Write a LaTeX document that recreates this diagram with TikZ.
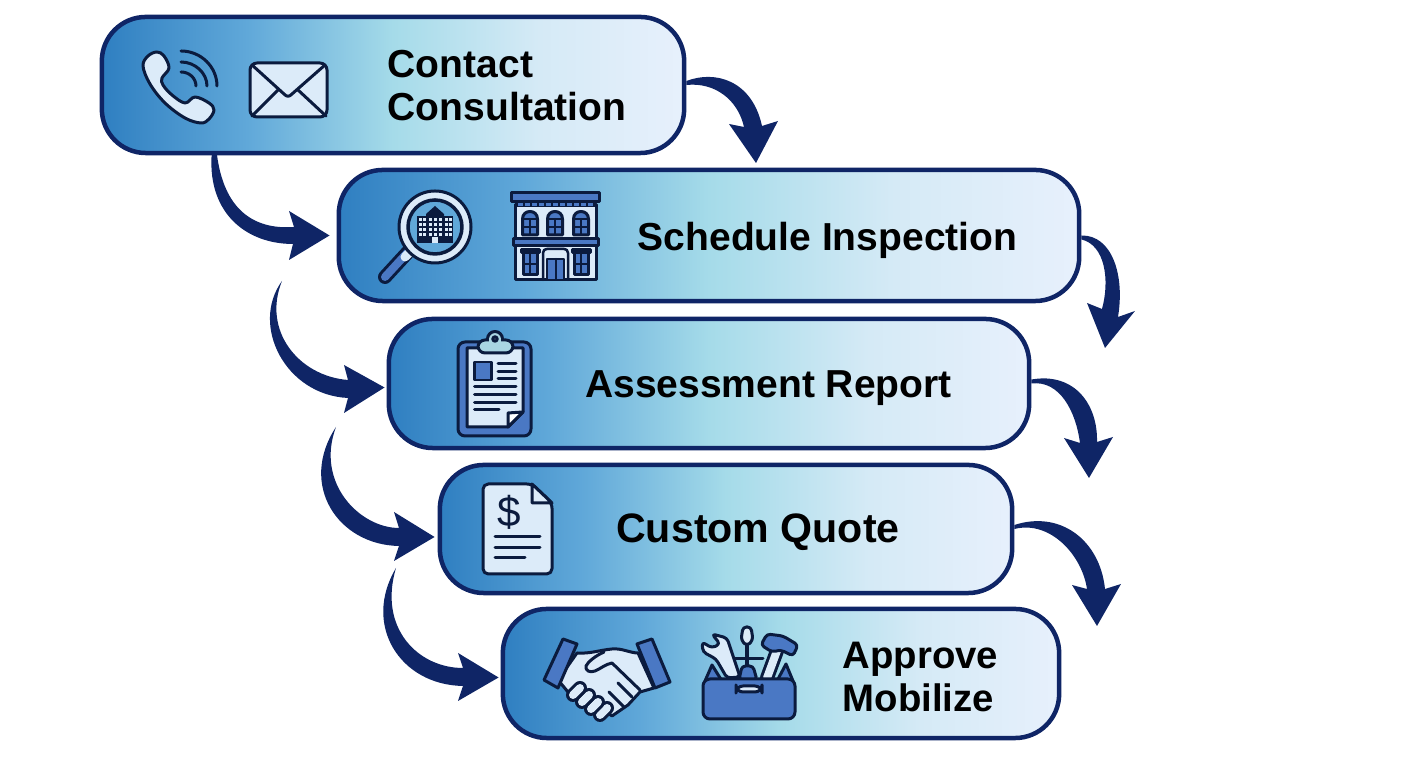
\documentclass[tikz,border=0pt]{standalone}
\usepackage{fontspec}
\setmainfont{Liberation Sans}
\usetikzlibrary{calc}

\definecolor{fadeA}{HTML}{2F7FC1}
\definecolor{fadeB}{HTML}{60A8D9}
\definecolor{fadeC}{HTML}{A5DBE9}
\definecolor{fadeD}{HTML}{D5EAF6}
\definecolor{fadeE}{HTML}{E7F0FC}
\definecolor{flowblue}{HTML}{0F2566}
\definecolor{icondark}{HTML}{0B1B3E}
\definecolor{iconlight}{HTML}{DCEBF9}
\definecolor{iconblue}{HTML}{4A78C4}
\definecolor{clipteal}{HTML}{A9D5E2}

\pgfdeclarehorizontalshading{boxfade}{100bp}{color(0bp)=(fadeA); color(25bp)=(fadeA);
  color(37.5bp)=(fadeB); color(50bp)=(fadeC); color(62.5bp)=(fadeD); color(75bp)=(fadeE); color(100bp)=(fadeE)}

\tikzset{
  stepbox/.style={draw=flowblue, line width=0.045cm, rounded corners=0.44cm, shade, shading=boxfade, inner sep=0pt},
  boxlabel/.style={font=\bfseries\fontsize{11.1}{12.2}\selectfont, text=black, align=left, inner sep=0pt},
  flowfill/.style={fill=flowblue},
  iconline/.style={draw=icondark, line width=0.03cm, line join=round, line cap=round},
  iconfill/.style={iconline, fill=iconlight},
  iconblock/.style={iconline, fill=iconblue},
  barlight/.style={draw=icondark, line width=0.03cm, double=iconlight, double distance=0.08cm, line cap=round},
  barblue/.style={draw=icondark, line width=0.03cm, double=iconblue, double distance=0.08cm, line cap=round},
}

\begin{document}
\begin{tikzpicture}[x=0.01cm, y=-0.01cm]
    \useasboundingbox (0,0) rectangle (1408,768);

    % Boxes
    \node[stepbox, minimum width=5.82cm, minimum height=1.36cm] (contact) at (393,85) {};
    \node[stepbox, minimum width=7.40cm, minimum height=1.31cm] (schedule) at (709,235.5) {};
    \node[stepbox, minimum width=6.40cm, minimum height=1.29cm] (assessment) at (709,383.5) {};
    \node[stepbox, minimum width=5.72cm, minimum height=1.28cm] (quote) at (726,529) {};
    \node[stepbox, minimum width=5.56cm, minimum height=1.29cm] (approve) at (781,673.5) {};

    % Labels
    \node[boxlabel] (contacttext) at (507,86) {Contact\\Consultation};
    \node[boxlabel] (scheduletext) at (827.5,240) {Schedule Inspection};
    \node[boxlabel] (assessmenttext) at (768.5,388) {Assessment Report};
    \node[boxlabel, font=\bfseries\fontsize{11.7}{12.2}\selectfont] (quotetext) at (758,532) {Custom Quote};
    \node[boxlabel, font=\bfseries\fontsize{10.9}{12.2}\selectfont] (approvetext) at (920.5,677) {Approve\\Mobilize};

    % Arrow ends
    \coordinate (start1) at ($(contact.south west)+(112,0)$);
    \coordinate (start2) at (282,281);
    \coordinate (start3) at (336,427);
    \coordinate (start4) at (396,568);
    \coordinate (tip1) at ($(schedule.west)+(-7,0)$);
    \coordinate (tip2) at ($(assessment.west)+(-2,4)$);
    \coordinate (tip3) at ($(quote.west)+(-3,8)$);
    \coordinate (tip4) at ($(approve.west)+(-2,4)$);
    \coordinate (out1) at ($(contact.east)+(0,-4)$);
    \coordinate (tipa) at (756,163);
    \coordinate (tipb) at (1105,348);
    \coordinate (tipc) at (1089,478);
    \coordinate (tipd) at (1097,626);

    % Arrows on the left
    \fill[flowfill] (start1) .. controls (208,215) and (248,244) .. (293,244) -- (289,260) -- (tip1)
        -- (289,211) -- (294,227) .. controls (252,230) and (224,208) .. (217,155) -- cycle;
    \fill[flowfill] (start2) .. controls (250,325) and (285,395) .. (348,398) -- (344,413) -- (tip2)
        -- (344,365) -- (348,380) .. controls (298,376) and (262,330) .. cycle;
    \fill[flowfill] (start3) .. controls (298,485) and (338,545) .. (399,546) -- (394,561) -- (tip3)
        -- (394,512) -- (399,528) .. controls (360,528) and (315,483) .. cycle;
    \fill[flowfill] (start4) .. controls (362,625) and (400,685) .. (463,686) -- (458,701) -- (tip4)
        -- (458,653) -- (463,668) .. controls (418,668) and (378,628) .. cycle;

    % Arrows on the right
    \fill[flowfill] (out1) .. controls (715,70) and (752,80) .. (762,126) -- (778,121) -- (tipa)
        -- (729,124) -- (744,127) .. controls (738,100) and (715,82) .. ($(out1)+(0,4)$) -- cycle;
    \fill[flowfill] (schedule.east) .. controls (1112,235) and (1125,275) .. (1118,317) -- (1135,311) -- (tipb)
        -- (1087,303) -- (1102,309) .. controls (1110,280) and (1105,245) .. ($(schedule.east)+(0,4)$) -- cycle;
    \fill[flowfill] ($(assessment.east)+(0,-4)$) .. controls (1075,372) and (1098,405) .. (1097,442) -- (1113,437) -- (tipc)
        -- (1064,438) -- (1080,443) .. controls (1076,412) and (1060,380) .. (assessment.east) -- cycle;
    \fill[flowfill] ($(quote.east)+(0,-4)$) .. controls (1060,510) and (1100,540) .. (1105,589) -- (1121,584) -- (tipd)
        -- (1072,585) -- (1087,589) .. controls (1082,555) and (1050,520) .. (quote.east) -- cycle;

    % Phone
    \draw[iconfill] plot[smooth cycle, tension=0.6] coordinates {(157,52) (164,56) (169,68) (162,78) (163,85)
        (172,95) (185,103) (195,97) (209,103) (214,110) (209,119) (201,123) (185,118) (165,103) (150,84) (143,66) (148,56)};
    \draw[iconline] (181,51) .. controls (201,51) and (217,67) .. (217,86);
    \draw[iconline] (181,62) .. controls (195,62) and (207,73) .. (207,86);
    \draw[iconline] (181,72) .. controls (189,72) and (196,78) .. (196,86);

    % Envelope
    \draw[iconfill, rounded corners=2pt] (250,63) rectangle (327,117);
    \draw[iconline] (252,65) -- (284,94) .. controls (287,97) and (289,97) .. (292,94) -- (325,65);
    \draw[iconline] (252,116) -- (278,90);
    \draw[iconline] (326,116) -- (298,90);

    % Magnifier
    \draw[barblue] (408,252) -- (385,277);
    \draw[iconline, line width=0.09cm, draw=iconlight] (410,252) -- (405,257);
    \draw[iconline, fill=iconlight] (435,227) circle[radius=36];
    \draw[iconline, fill=fadeB, line width=0.035cm] (435,227) circle[radius=27];
    \fill[icondark] (417,216) rectangle (453,243);
    \fill[icondark] (426,214) -- (435,206) -- (444,214) -- (444,216) -- (426,216) -- cycle;
    \foreach \wx in {420,424,430,435,440,446,450} {
      \foreach \wy in {220,225,230,235} {
        \fill[iconlight] (\wx-1.5,\wy-1.5) rectangle (\wx+1.5,\wy+1.5);
      }
    }
    \fill[iconlight] (432,237) rectangle (438,243);

    % Building
    \draw[iconfill] (515,205) rectangle (596,280);
    \draw[iconblock] (511,193) rectangle (599,202);
    \fill[icondark] (515,202) rectangle (596,207.5);
    \foreach \wx in {518,525,532,539,546,553,560,567,574,581,588} {
      \fill[iconblue] (\wx,203) rectangle (\wx+5,206.5);
    }
    \draw[iconblock] (513,239) rectangle (598,246);
    \foreach \wx in {530,555,581} {
      \draw[iconblock] (\wx-7.5,235) -- (\wx-7.5,219) .. controls (\wx-7.5,209) and (\wx+7.5,209) .. (\wx+7.5,219) -- (\wx+7.5,235) -- cycle;
      \draw[iconline, line width=0.02cm] (\wx-7.5,219) -- (\wx+7.5,219) (\wx-7.5,227) -- (\wx+7.5,227) (\wx,219) -- (\wx,235);
    }
    \foreach \wx in {530,581} {
      \draw[iconblock] (\wx-7,253) rectangle (\wx+7,275);
      \draw[iconline, line width=0.02cm] (\wx-7,264) -- (\wx+7,264) (\wx,253) -- (\wx,275);
      \draw[iconline, fill=icondark] (\wx-9,250) rectangle (\wx+9,253);
    }
    \draw[iconline, line width=0.025cm] (543,280) -- (543,253) .. controls (543,250) and (545,249) .. (547,249) -- (564,249) .. controls (566,249) and (568,250) .. (568,253) -- (568,280);
    \draw[iconblock, line width=0.02cm] (547,259) rectangle (564,280);
    \draw[iconline, line width=0.02cm] (555.5,259) -- (555.5,280);

    % Clipboard
    \draw[iconblock, rounded corners=2pt] (458,342) rectangle (531,436);
    \draw[iconfill] (467,348) -- (523,348) -- (523,412) -- (508,427) -- (467,427) -- cycle;
    \draw[iconline, fill=white] (508,427) -- (508,413) -- (523,412) -- cycle;
    \draw[iconline, fill=clipteal] (495,339) circle[radius=7.5];
    \draw[iconline, fill=clipteal, rounded corners=2pt] (478,340) rectangle (513,353);
    \fill[clipteal] (489,338) rectangle (501,342);
    \draw[iconline, fill=white] (495,339) circle[radius=2.2];
    \draw[iconblock, line width=0.025cm] (474.5,362) rectangle (491.5,380);
    \foreach \ly in {364,372,379} {
      \draw[iconline] (498,\ly) -- (516,\ly);
    }
    \foreach \ly in {387,395,403} {
      \draw[iconline] (474.5,\ly) -- (516,\ly);
    }
    \draw[iconline] (474.5,410) -- (499,410);

    % Quote sheet
    \draw[iconfill, rounded corners=1.5pt] (483,484) -- (532,484) -- (552,503) -- (552,574) -- (483,574) -- cycle;
    \draw[iconline, fill=iconlight] (532,484) -- (532,503) -- (552,503) -- cycle;
    \node[text=icondark, font=\fontsize{12}{13}\selectfont, inner sep=0pt] (dollar) at (509,512) {\$};
    \draw[iconline] (495,537) -- (540,537);
    \draw[iconline] (495,548) -- (540,548);
    \draw[iconline] (495,558) -- (525,558);

    % Handshake
    \draw[iconfill] (577,653) .. controls (590,654) and (600,650) .. (612,649) .. controls (622,648) and (630,653) .. (638,653)
        -- (654,688) -- (640,692) -- (628,705) -- (612,716) -- (590,700) -- (568,692) -- (558,680) -- cycle;
    \draw[iconline] (604,652) .. controls (595,656) and (588,662) .. (586,666) .. controls (585,671) and (590,673) .. (595,671)
        .. controls (600,669) and (606,664) .. (612,663) -- (640,690);
    \draw[iconline] (618,683) -- (632,697);
    \draw[iconline] (609,692) -- (624,707);
    \foreach \fx/\fy in {603/712,594/706,585/699,576/692} {
      \draw[barlight] (\fx+4,\fy-4) -- (\fx-3,\fy+3);
    }
    \draw[iconblock] (563,639) -- (577,644) -- (558,688) -- (544,680) -- cycle;
    \draw[iconblock] (637,644) -- (652,639) -- (670,682) -- (655,688) -- cycle;

    % Toolbox
    \draw[iconline] (734,659) -- (763,659);
    \draw[iconblock] (705,681) -- (712,665) -- (722,681);
    \draw[iconblock] (777,681) -- (786,664) -- (793,681);
    \draw[iconfill, rounded corners=1pt] (712,634) -- (727,638) -- (732,653) -- (740,677) -- (727,678) -- (716,659) -- (703,652)
        -- (702,642) -- (712,648) -- (720,644) -- cycle;
    \draw[iconline, line width=0.045cm] (747,640) -- (747,668);
    \draw[iconfill, rounded corners=1pt] (743,627) -- (751,627) -- (753,640) -- (747,646) -- (741,640) -- cycle;
    \draw[iconline, fill=iconblue, rounded corners=1pt] (742,666) -- (753,666) -- (757,680) -- (739,680) -- cycle;
    \draw[barlight] (767,678) -- (778,648);
    \draw[iconblock, rounded corners=1pt] (761,645) -- (767,634) -- (783,636) -- (798,645) -- (793,656) -- (781,650) -- (772,652) -- cycle;
    \draw[iconblock, rounded corners=2pt] (703,679) rectangle (795,719);
    \draw[iconfill, rounded corners=2pt] (736,686) rectangle (762,692);
\end{tikzpicture}
\end{document}
